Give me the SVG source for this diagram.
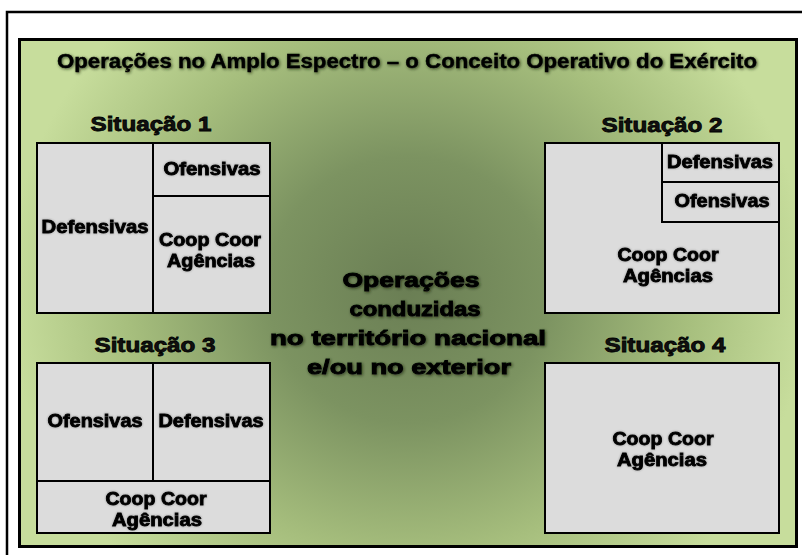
<svg xmlns="http://www.w3.org/2000/svg" width="802" height="555" viewBox="0 0 802 555">
<defs>
<radialGradient id="bg" gradientUnits="userSpaceOnUse" cx="408" cy="290" r="400" gradientTransform="translate(408 290) scale(1.0 0.95) translate(-408 -290)">
<stop offset="0" stop-color="#6a7e54"/>
<stop offset="0.35" stop-color="#7c9361"/>
<stop offset="0.7" stop-color="#a6be7d"/>
<stop offset="1" stop-color="#c7dd9c"/>
</radialGradient>
<filter id="glow" x="-10%" y="-30%" width="120%" height="160%">
<feGaussianBlur in="SourceAlpha" stdDeviation="1.4" result="b"/>
<feOffset in="b" dx="1" dy="1" result="o"/>
<feFlood flood-color="#1a2410" flood-opacity="0.75"/>
<feComposite in2="o" operator="in" result="s"/>
<feMerge><feMergeNode in="s"/><feMergeNode in="SourceGraphic"/></feMerge>
</filter>
<filter id="soft" x="-10%" y="-30%" width="120%" height="160%">
<feGaussianBlur in="SourceAlpha" stdDeviation="0.8" result="b"/>
<feFlood flood-color="#303030" flood-opacity="0.45"/>
<feComposite in2="b" operator="in" result="s"/>
<feMerge><feMergeNode in="s"/><feMergeNode in="SourceGraphic"/></feMerge>
</filter>
</defs>
<style>
.frame{fill:#fff;stroke:#000;stroke-width:2.5}
.panel{fill:url(#bg);stroke:#000;stroke-width:3}
.box{fill:#dcdcdc;stroke:#000;stroke-width:2}
.div{stroke:#000;stroke-width:2;fill:none}
text{font-family:"Liberation Sans",Arial,sans-serif;font-weight:bold;fill:#000;text-anchor:middle}
.title{font-size:20px;stroke:#000;stroke-width:0.4;filter:url(#glow)}
.sit{font-size:20px;stroke:#000;stroke-width:0.8;fill:#111}
.lbl{font-size:17.5px;stroke:#000;stroke-width:0.8;filter:url(#soft)}
.ctr{font-size:21px;stroke:#000;stroke-width:0.9;filter:url(#glow)}
</style>
<rect class="frame" x="7" y="12" width="820" height="560"/>
<rect class="panel" x="19.5" y="39.5" width="777" height="507"/>
<g id="title">
<text class="title" x="407" y="68" textLength="700" lengthAdjust="spacingAndGlyphs">Operações no Amplo Espectro – o Conceito Operativo do Exército</text>
</g>
<g id="situacao1">
<text class="sit" x="151" y="131" textLength="121" lengthAdjust="spacingAndGlyphs">Situação 1</text>
<rect class="box" x="37" y="143" width="233" height="170"/>
<line class="div" x1="153" y1="143" x2="153" y2="313"/>
<line class="div" x1="153" y1="196" x2="270" y2="196"/>
<text class="lbl" x="212" y="175" textLength="97" lengthAdjust="spacingAndGlyphs">Ofensivas</text>
<text class="lbl" x="95" y="233" textLength="107" lengthAdjust="spacingAndGlyphs">Defensivas</text>
<text class="lbl" x="210" y="246" textLength="102" lengthAdjust="spacingAndGlyphs">Coop Coor</text>
<text class="lbl" x="211" y="267" textLength="88" lengthAdjust="spacingAndGlyphs">Agências</text>
</g>
<g id="situacao2">
<text class="sit" x="662" y="132" textLength="121" lengthAdjust="spacingAndGlyphs">Situação 2</text>
<rect class="box" x="545" y="143" width="234" height="170"/>
<polyline class="div" points="662,143 662,222 779,222"/>
<line class="div" x1="662" y1="182" x2="779" y2="182"/>
<text class="lbl" x="720" y="168" textLength="106" lengthAdjust="spacingAndGlyphs">Defensivas</text>
<text class="lbl" x="722" y="207" textLength="95" lengthAdjust="spacingAndGlyphs">Ofensivas</text>
<text class="lbl" x="668" y="261" textLength="101" lengthAdjust="spacingAndGlyphs">Coop Coor</text>
<text class="lbl" x="668" y="282" textLength="90" lengthAdjust="spacingAndGlyphs">Agências</text>
</g>
<g id="situacao3">
<text class="sit" x="155" y="352" textLength="121" lengthAdjust="spacingAndGlyphs">Situação 3</text>
<rect class="box" x="37" y="363" width="233" height="170"/>
<line class="div" x1="153" y1="363" x2="153" y2="481"/>
<line class="div" x1="37" y1="481" x2="270" y2="481"/>
<text class="lbl" x="95" y="427" textLength="95" lengthAdjust="spacingAndGlyphs">Ofensivas</text>
<text class="lbl" x="211" y="427" textLength="105" lengthAdjust="spacingAndGlyphs">Defensivas</text>
<text class="lbl" x="156" y="505" textLength="101" lengthAdjust="spacingAndGlyphs">Coop Coor</text>
<text class="lbl" x="157" y="526" textLength="90" lengthAdjust="spacingAndGlyphs">Agências</text>
</g>
<g id="situacao4">
<text class="sit" x="665" y="352" textLength="121" lengthAdjust="spacingAndGlyphs">Situação 4</text>
<rect class="box" x="545" y="363" width="234" height="170"/>
<text class="lbl" x="663" y="445" textLength="101" lengthAdjust="spacingAndGlyphs">Coop Coor</text>
<text class="lbl" x="662" y="466" textLength="90" lengthAdjust="spacingAndGlyphs">Agências</text>
</g>
<g id="centro">
<text class="ctr" x="411" y="287" textLength="137" lengthAdjust="spacingAndGlyphs">Operações</text>
<text class="ctr" x="415" y="316" textLength="131" lengthAdjust="spacingAndGlyphs">conduzidas</text>
<text class="ctr" x="408" y="345" textLength="276" lengthAdjust="spacingAndGlyphs">no território nacional</text>
<text class="ctr" x="409" y="374" textLength="204" lengthAdjust="spacingAndGlyphs">e/ou no exterior</text>
</g>
<g id="connectors"/>
</svg>
